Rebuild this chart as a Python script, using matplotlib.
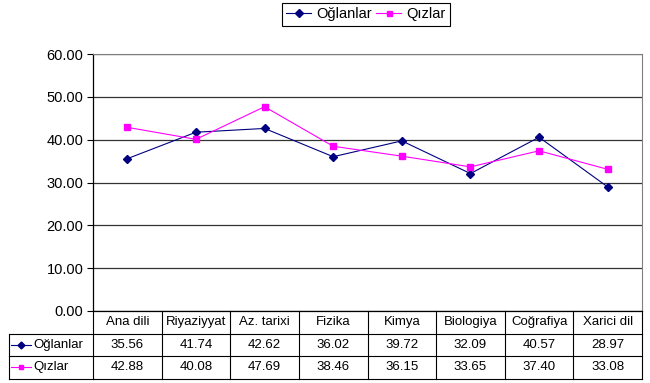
import numpy as np
import matplotlib.pyplot as plt
import matplotlib.transforms as mtransforms

plt.rcParams['font.family'] = ['Liberation Sans', 'DejaVu Sans']

categories = ['Ana dili', 'Riyaziyyat', 'Az. tarixi', 'Fizika', 'Kimya',
              'Biologiya', 'Coğrafiya', 'Xarici dil']
oglanlar = [35.56, 41.74, 42.62, 36.02, 39.72, 32.09, 40.57, 28.97]
qizlar = [42.88, 40.08, 47.69, 38.46, 36.15, 33.65, 37.40, 33.08]
yticks = [0, 10, 20, 30, 40, 50, 60]

series = [('Oğlanlar', oglanlar, '#000080', 'D', 4.5),
          ('Qızlar', qizlar, '#FF00FF', 's', 4.5)]

W, H = 650, 383
fig = plt.figure(figsize=(W / 100, H / 100), dpi=100)
fig.patch.set_facecolor('white')

x0, x1, ytop, ybot = 93, 642, 54, 311
ax = fig.add_axes([x0 / W, 1 - ybot / H, (x1 - x0) / W, (ybot - ytop) / H])

x = np.arange(len(categories))
for name, vals, col, mk, ms in series:
    ax.plot(x, vals, color=col, marker=mk, markersize=ms, lw=0.8, label=name)

ax.set_xlim(-0.5, len(categories) - 0.5)
ax.set_ylim(0, 60)
ax.set_yticks(yticks)
ax.set_yticklabels(['%.2f' % v for v in yticks], fontsize=10.5)
ax.set_xticks([])
ax.tick_params(axis='y', direction='out', length=4, width=0.8, color='black', pad=3)
ax.grid(axis='y', color='#333333', lw=0.9)
ax.set_axisbelow(True)
for s in ['top', 'right']:
    ax.spines[s].set_color('#808080')
for s in ['left', 'bottom']:
    ax.spines[s].set_color('black')
    ax.spines[s].set_linewidth(0.9)

# data table below the plot
trans = mtransforms.blended_transform_factory(ax.transData, ax.transAxes)
axh = ybot - ytop
rowh = 22.5 / axh
n = len(categories)
col_w = (x1 - x0) / n
xl = -0.5 - (x0 - 9) / col_w  # left edge of row label column
lkw = dict(color='black', lw=0.8, transform=trans, clip_on=False)

for r in range(1, 4):
    yy = -r * rowh
    ax.plot([-0.5, n - 0.5], [yy, yy], **lkw)
for r in [1, 2, 3]:
    yy = -r * rowh
    ax.plot([xl, -0.5], [yy, yy], **lkw)
ax.plot([xl, xl], [-rowh, -3 * rowh], **lkw)
for i in range(n + 1):
    ax.plot([i - 0.5, i - 0.5], [0, -3 * rowh], **lkw)

for i, c in enumerate(categories):
    ax.text(i, -0.5 * rowh, c, ha='center', va='center', fontsize=9.5,
            transform=trans)
for r, (name, vals, col, mk, ms) in enumerate(series, start=1):
    yc = -(r + 0.5) * rowh
    for i, v in enumerate(vals):
        ax.text(i, yc, '%.2f' % v, ha='center', va='center', fontsize=9.5,
                transform=trans)
    lx = xl + 2 / col_w
    ax.plot([lx, lx + 10 / col_w, lx + 20 / col_w], [yc] * 3, color=col,
            marker=mk, markersize=ms - 1, markevery=[1], lw=0.8,
            transform=trans, clip_on=False)
    ax.text(lx + 22 / col_w, yc, name, ha='left', va='center', fontsize=9.5,
            transform=trans)

leg = ax.legend(loc='upper center', bbox_to_anchor=(366 / W, 1 - 3 / H),
                bbox_transform=fig.transFigure, ncol=2, fontsize=10.5,
                fancybox=False, edgecolor='black', framealpha=1,
                handlelength=1.7, columnspacing=0.3, handletextpad=0.35,
                borderpad=0.3, borderaxespad=0, markerscale=0.8)
leg.get_frame().set_linewidth(0.8)

fig.savefig('out.png', dpi=100)
